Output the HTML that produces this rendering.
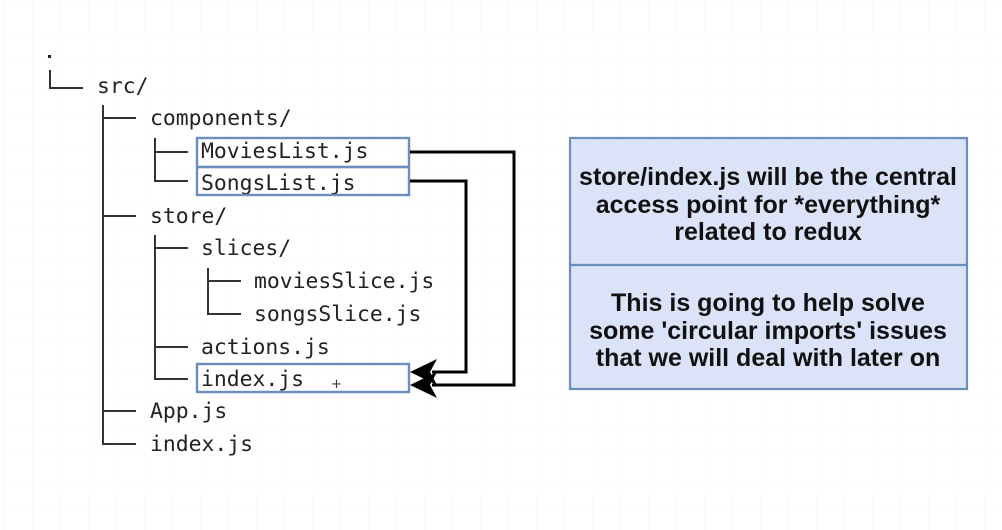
<!DOCTYPE html>
<html><head><meta charset="utf-8"><style>
html,body{margin:0;padding:0;background:#fff;}
svg{display:block;}
</style></head><body>
<svg width="1002" height="530" xmlns="http://www.w3.org/2000/svg">
<defs>
<pattern id="g" x="5" y="7" width="28" height="28" patternUnits="userSpaceOnUse">
<path d="M28 0V28M0 28H28" fill="none" stroke="#f3f3f3" stroke-width="1"/>
</pattern>
</defs>
<rect width="1002" height="530" fill="url(#g)"/>
<rect x="33" y="35" width="969" height="460" fill="#fff" opacity="0.4"/>

<g stroke="#333" stroke-width="2" fill="none">
<path d="M50 70V88H83"/>
<path d="M103 105V444H136"/>
<path d="M103 118H136M103 216H136M103 411H136"/>
<path d="M155 138V181H188M155 152H188"/>
<path d="M155 235V379H188M155 248H188M155 347H188"/>
<path d="M208 268V314H241M208 281H241"/>
</g>
<rect x="48" y="55" width="3" height="3" fill="#222"/>

<g font-family="'DejaVu Sans Mono','Liberation Mono',monospace" font-size="21.4" fill="#222">
<text x="97" y="93">src/</text>
<text x="150" y="125">components/</text>
<text x="201" y="158">MoviesList.js</text>
<text x="201" y="190">SongsList.js</text>
<text x="150" y="223">store/</text>
<text x="201" y="255">slices/</text>
<text x="254" y="288">moviesSlice.js</text>
<text x="254" y="321">songsSlice.js</text>
<text x="201" y="354">actions.js</text>
<text x="201" y="386">index.js</text>
<text x="150" y="418">App.js</text>
<text x="150" y="451">index.js</text>
</g>
<text x="331" y="388" font-family="'DejaVu Sans',sans-serif" font-size="13" fill="#333">+</text>

<g fill="none" stroke="#6c8ebf" stroke-width="2.4">
<rect x="197" y="138" width="212" height="29"/>
<rect x="197" y="167" width="212" height="28"/>
<rect x="197" y="364" width="212" height="28"/>
</g>

<g stroke="#000" stroke-width="3" fill="none">
<path d="M410 152H514V385H432"/>
<path d="M410 181H466V372H432"/>
</g>
<g fill="#000">
<path d="M410 372L437 359L430 372L437 385Z"/>
<path d="M410 385L437 372L430 385L437 398Z"/>
</g>

<rect x="570" y="138" width="397" height="251" fill="#dae3f8" stroke="#6c8ebf" stroke-width="2.2"/>
<line x1="570" y1="265" x2="967" y2="265" stroke="#6c8ebf" stroke-width="2.2"/>
<g font-family="'Liberation Sans',sans-serif" font-size="25" font-weight="bold" fill="#111" text-anchor="middle">
<text x="768" y="185">store/index.js will be the central</text>
<text x="768" y="213">access point for *everything*</text>
<text x="768" y="240">related to redux</text>
<text x="768" y="311">This is going to help solve</text>
<text x="768" y="339">some 'circular imports' issues</text>
<text x="768" y="366">that we will deal with later on</text>
</g>
</svg>
</body></html>
